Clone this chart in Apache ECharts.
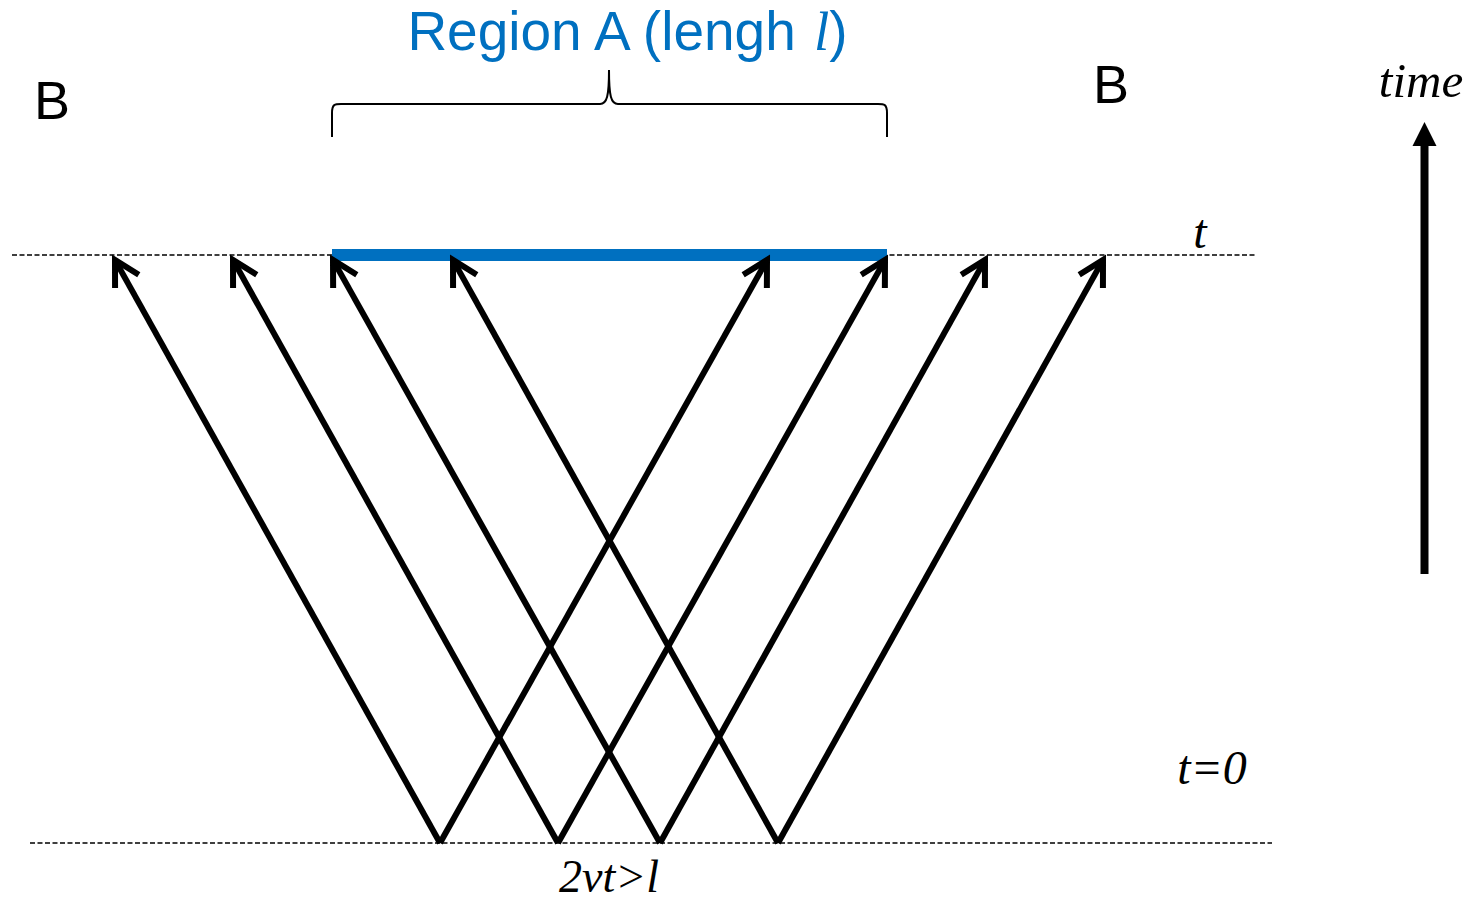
<!DOCTYPE html>
<html><head><meta charset="utf-8">
<script src="https://cdn.jsdelivr.net/npm/echarts@6/dist/echarts.min.js"></script>
<style>html,body{margin:0;padding:0;background:#fff}#c{width:1477px;height:904px}</style>
</head><body><div id="c"></div>
<script>
// ---- diagram data (x = position, y = screen row; time runs upward) ----
const sourceX   = [440, 558, 660, 778];      // emission points at t = 0
const leftEndX  = [115, 233, 333, 453];      // left movers at time t
const rightEndX = [767, 885, 985, 1103];     // right movers at time t
const levelT0 = 843;                         // row of t = 0
const levelT  = 255;                         // row of time t
const arrowTipY = 260;                       // tip row of the arrows
const topLineX    = [12, 1255];
const bottomLineX = [30, 1272];
const regionAX = [332, 887];
const braceX = [332, 609, 887];              // left, tip, right
const braceY = [137, 104, 70];               // bottom, bar, tip
const timeArrowX = 1424.5;
const timeArrowY = [574, 122];

const labels = {
  title: 'Region A (lengh ',
  italicL: 'l',
  B: 'B',
  time: 'time',
  t: 't',
  t0: 't=0',
  cond: '2vt>l'
};

const arrowData = [];
for (let i = 0; i < sourceX.length; i++) {
  arrowData.push([sourceX[i], levelT0, leftEndX[i], arrowTipY]);
  arrowData.push([sourceX[i], levelT0, rightEndX[i], arrowTipY]);
}

function renderArrow(params, api) {
  const p0 = api.coord([api.value(0), api.value(1)]);
  const p1 = api.coord([api.value(2), api.value(3)]);
  const dx = p0[0] - p1[0], dy = p0[1] - p1[1];
  const len = Math.hypot(dx, dy);
  const ux = dx / len, uy = dy / len;
  const a = 29 * Math.PI / 180, L = 28;
  const rot = (ang) => [ux * Math.cos(ang) - uy * Math.sin(ang), ux * Math.sin(ang) + uy * Math.cos(ang)];
  const r1 = rot(a), r2 = rot(-a);
  return {
    type: 'group',
    children: [
      { type: 'line', shape: { x1: p0[0], y1: p0[1], x2: p1[0] + ux * 3, y2: p1[1] + uy * 3 },
        style: { stroke: '#000', lineWidth: 6 } },
      { type: 'polyline', shape: { points: [[p1[0] + r1[0] * L, p1[1] + r1[1] * L], [p1[0], p1[1]], [p1[0] + r2[0] * L, p1[1] + r2[1] * L]] },
        style: { stroke: '#000', lineWidth: 6, fill: null, lineJoin: 'miter', lineCap: 'butt' } }
    ]
  };
}

function renderBrace(params, api) {
  const l = api.coord([braceX[0], braceY[0]]);
  const lb = api.coord([braceX[0], braceY[1]]);
  const tip = api.coord([braceX[1], braceY[2]]);
  const r = api.coord([braceX[2], braceY[0]]);
  const by = lb[1];
  const s = { stroke: '#000', lineWidth: 2, fill: null };
  return {
    type: 'group',
    children: [
      { type: 'line', shape: { x1: l[0], y1: l[1], x2: l[0], y2: by + 9 }, style: s },
      { type: 'bezierCurve', shape: { x1: l[0], y1: by + 9, cpx1: l[0], cpy1: by, cpx2: l[0] + 3, cpy2: by, x2: l[0] + 9, y2: by }, style: s },
      { type: 'line', shape: { x1: l[0] + 9, y1: by, x2: tip[0] - 9, y2: by }, style: s },
      { type: 'bezierCurve', shape: { x1: tip[0] - 9, y1: by, cpx1: tip[0] - 2, cpy1: by, cpx2: tip[0], cpy2: by - 8, x2: tip[0], y2: tip[1] }, style: s },
      { type: 'bezierCurve', shape: { x1: tip[0], y1: tip[1], cpx1: tip[0], cpy1: by - 8, cpx2: tip[0] + 2, cpy2: by, x2: tip[0] + 9, y2: by }, style: s },
      { type: 'line', shape: { x1: tip[0] + 9, y1: by, x2: r[0] - 9, y2: by }, style: s },
      { type: 'bezierCurve', shape: { x1: r[0] - 9, y1: by, cpx1: r[0] - 3, cpy1: by, cpx2: r[0], cpy2: by, x2: r[0], y2: by + 9 }, style: s },
      { type: 'line', shape: { x1: r[0], y1: by + 9, x2: r[0], y2: r[1] }, style: s }
    ]
  };
}

function renderTimeArrow(params, api) {
  const b = api.coord([api.value(0), api.value(1)]);
  const t = api.coord([api.value(0), api.value(2)]);
  const head = 24, hw = 12, sw = 8;
  return {
    type: 'group',
    children: [
      { type: 'rect', shape: { x: b[0] - sw / 2, y: t[1] + head - 1, width: sw, height: b[1] - t[1] - head + 1 }, style: { fill: '#000' } },
      { type: 'polygon', shape: { points: [[t[0], t[1]], [t[0] - hw, t[1] + head], [t[0] + hw, t[1] + head]] }, style: { fill: '#000' } }
    ]
  };
}

const sans = "'Liberation Sans', Arial, sans-serif";
const serif = "'Liberation Serif', 'Times New Roman', serif";

const chart = echarts.init(document.getElementById('c'), null, { renderer: 'svg' });
chart.setOption({
  animation: false,
  backgroundColor: '#ffffff',
  grid: { left: 0, right: 0, top: 0, bottom: 0 },
  xAxis: { type: 'value', min: 0, max: 1477, show: false },
  yAxis: { type: 'value', min: 0, max: 904, inverse: true, show: false },
  series: [
    { type: 'line', data: [[topLineX[0], levelT], [topLineX[1], levelT]], showSymbol: false, silent: true, z: 1,
      lineStyle: { color: '#000', width: 1.3, type: [5, 2.5] } },
    { type: 'line', data: [[bottomLineX[0], levelT0], [bottomLineX[1], levelT0]], showSymbol: false, silent: true, z: 1,
      lineStyle: { color: '#000', width: 1.3, type: [5, 2.5] } },
    { type: 'line', data: [[regionAX[0], levelT], [regionAX[1], levelT]], showSymbol: false, silent: true, z: 2,
      lineStyle: { color: '#0070C0', width: 12, cap: 'butt' } },
    { type: 'custom', data: arrowData, renderItem: renderArrow, silent: true, z: 3 },
    { type: 'custom', data: [[0]], renderItem: renderBrace, silent: true, z: 3 },
    { type: 'custom', data: [[timeArrowX, timeArrowY[0], timeArrowY[1]]], renderItem: renderTimeArrow, silent: true, z: 3 }
  ],
  graphic: [
    { type: 'text', x: 626, y: 31, style: {
      text: '{a|' + labels.title + '}{b|' + labels.italicL + '}{a|)}',
      align: 'center', verticalAlign: 'middle',
      rich: {
        a: { fontFamily: sans, fontSize: 55, fill: '#0070C0', color: '#0070C0' },
        b: { fontFamily: serif, fontStyle: 'italic', fontSize: 55, fill: '#0070C0', color: '#0070C0' }
      } } },
    { type: 'text', x: 52, y: 100, style: { text: labels.B, font: '54px ' + sans, fill: '#000', align: 'center', verticalAlign: 'middle' } },
    { type: 'text', x: 1111, y: 84, style: { text: labels.B, font: '54px ' + sans, fill: '#000', align: 'center', verticalAlign: 'middle' } },
    { type: 'text', x: 1421, y: 80, style: { text: labels.time, font: 'italic 49px ' + serif, fill: '#000', align: 'center', verticalAlign: 'middle' } },
    { type: 'text', x: 1200, y: 231, style: { text: labels.t, font: 'italic 48px ' + serif, fill: '#000', align: 'center', verticalAlign: 'middle' } },
    { type: 'text', x: 1212, y: 767, style: { text: labels.t0, font: 'italic 48px ' + serif, fill: '#000', align: 'center', verticalAlign: 'middle' } },
    { type: 'text', x: 609, y: 876, style: { text: labels.cond, font: 'italic 46px ' + serif, fill: '#000', align: 'center', verticalAlign: 'middle' } }
  ]
});
</script>
</body></html>
